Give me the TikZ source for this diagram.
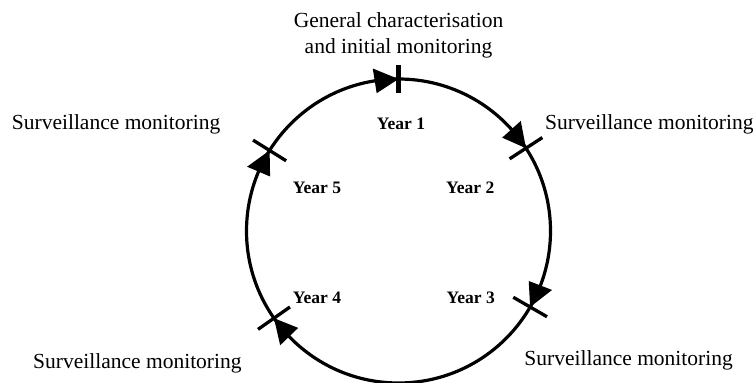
\documentclass[tikz,border=0pt]{standalone}
\usepackage{fontspec}
\setmainfont{Liberation Serif}
\begin{document}
\begin{tikzpicture}[x=1pt,y=1pt,
  lbl/.style={inner sep=0pt,font=\fontsize{21.5}{26}\selectfont},
  yr/.style={inner sep=0pt,font=\fontsize{17.5}{20}\selectfont\bfseries},
  ring/.style={line width=3.2pt},
  head/.style={fill=black}]
\useasboundingbox (0,0) rectangle (756,-383);
\coordinate (C) at (398.5,-231);
\begin{scope}[shift={(C)}]
  \draw[ring] (0,0) circle (152);
  % arrowheads (clockwise) and tick marks
  \foreach \a/\w/\h in {90/5/14, 33/3.3/19.5, -30/3.3/19.5, 215/3.3/19.5, 148/3.3/19.5}{
    \fill[head] (\a:152) -- (\a+9:164.5) -- (\a+9:139.5) -- cycle;
    \draw[line width=\w pt] (\a:152-\h) -- (\a:152+\h);
  }
\end{scope}
\node[lbl,anchor=base] (gen) at (398.5,-27) {General characterisation};
\node[lbl,anchor=base] (gen2) at (398.5,-53) {and initial monitoring};
\node[lbl,anchor=base west] (sul) at (11.7,-129) {Surveillance monitoring};
\node[lbl,anchor=base west] (sur) at (545,-129) {Surveillance monitoring};
\node[lbl,anchor=base west] (sll) at (33,-368) {Surveillance monitoring};
\node[lbl,anchor=base east] (slr) at (733,-365) {Surveillance monitoring};
\node[yr,anchor=base] (y1) at (401,-129) {Year 1};
\node[yr,anchor=base west] (y2) at (446,-193) {Year 2};
\node[yr,anchor=base east] (y3) at (495,-303) {Year 3};
\node[yr,anchor=base west] (y4) at (292.7,-303) {Year 4};
\node[yr,anchor=base west] (y5) at (292.7,-193) {Year 5};
\end{tikzpicture}
\end{document}
